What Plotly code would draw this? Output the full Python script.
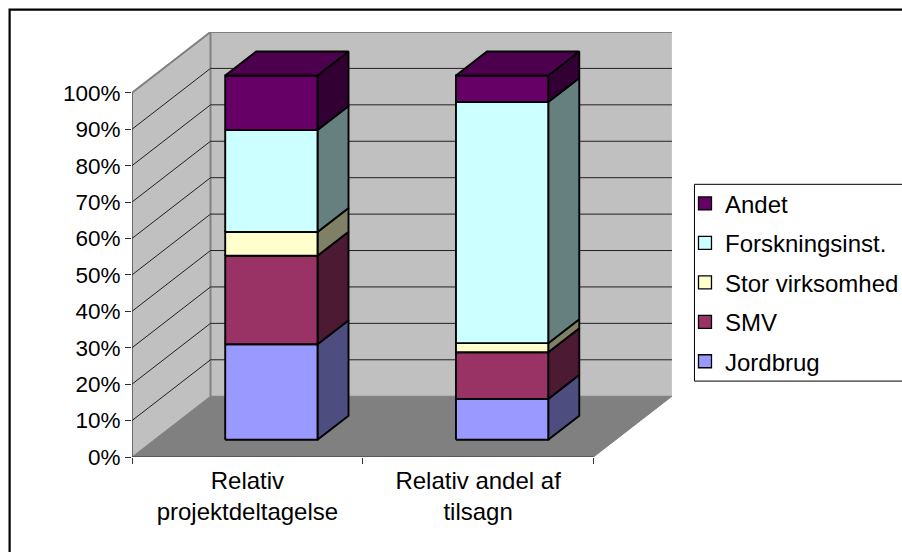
import plotly.graph_objects as go

categories = ["Relativ<br>projektdeltagelse", "Relativ andel af<br>tilsagn"]
series_names = ["Jordbrug", "SMV", "Stor virksomhed", "Forskningsinst.", "Andet"]
jordbrug = [26.2, 11.2]
smv = [24.3, 12.8]
stor = [6.5, 2.5]
forskning = [28.0, 66.2]
andet = [15.0, 7.3]
series_values = [jordbrug, smv, stor, forskning, andet]
front_colors = ["#9999FF", "#993366", "#FFFFCC", "#CCFFFF", "#660066"]
side_colors = ["#4D4D80", "#4D1A33", "#808066", "#668080", "#330033"]
top_color = "#4D004D"
tick_values = [0, 10, 20, 30, 40, 50, 60, 70, 80, 90, 100]
tick_labels = [f"{v}%" for v in tick_values]

W, H = 902, 552
PL, PR, PT, PB = 131.5, 672, 31.5, 457   # plot box in page pixels
DX = 78.5 / 230.7          # oblique depth shift, x units
DY = 61 / 3.655            # oblique depth shift, percent units
BAR_X0 = 0.307
BAR_W = 0.40
D0, D1 = 0.285, 0.68
FONT = "Liberation Sans, Arial, sans-serif"
FS_AXIS = 22.5
FS_CAT = 24
FS_LEG = 24


def proj(x, y, d):
    return x + d * DX, y + d * DY


def poly(pts, fill, line="black", width=1.9):
    xs = [p[0] for p in pts] + [pts[0][0]]
    ys = [p[1] for p in pts] + [pts[0][1]]
    return go.Scatter(x=xs, y=ys, mode="lines", fill="toself", fillcolor=fill,
                      line=dict(color=line, width=width), showlegend=False, hoverinfo="skip")


def seg(pts, color, width):
    return go.Scatter(x=[p[0] for p in pts], y=[p[1] for p in pts], mode="lines",
                      line=dict(color=color, width=width), showlegend=False, hoverinfo="skip")


fig = go.Figure()

# walls and floor
n = len(categories)
fig.add_trace(poly([proj(0, 0, 0), proj(0, 100, 0), proj(0, 100, 1), proj(0, 0, 1)], "#C0C0C0", "#C0C0C0", 1))
fig.add_trace(poly([proj(0, 0, 1), proj(0, 100, 1), proj(n, 100, 1), proj(n, 0, 1)], "#C0C0C0", "#C8C8C8", 1.5))
fig.add_trace(poly([proj(0, 0, 0), proj(n, 0, 0), proj(n, 0, 1), proj(0, 0, 1)], "#808080", "#808080", 1))
fig.add_trace(seg([proj(0, 100, 0), proj(0, 100, 1), proj(n, 100, 1)], "#808080", 2))
fig.add_trace(seg([proj(0, 100, 1), proj(0, 0, 1)], "#808080", 2))

# gridlines
for v in tick_values[1:-1]:
    fig.add_trace(seg([proj(0, v, 0), proj(0, v, 1), proj(n, v, 1)], "#202020", 1))

# axis lines
fig.add_trace(seg([proj(0, 0, 0), proj(n, 0, 0)], "#303030", 1.2))
fig.add_trace(seg([proj(0, 0, 0), proj(0, 100, 0)], "#303030", 1.2))

# stacked prisms
for c in range(n):
    base = 0
    x0, x1 = c + BAR_X0, c + BAR_X0 + BAR_W
    for s, vals in enumerate(series_values):
        y0, y1 = base, base + vals[c]
        fig.add_trace(poly([proj(x1, y0, D0), proj(x1, y1, D0), proj(x1, y1, D1), proj(x1, y0, D1)], side_colors[s]))
        fig.add_trace(poly([proj(x0, y0, D0), proj(x1, y0, D0), proj(x1, y1, D0), proj(x0, y1, D0)], front_colors[s]))
        base = y1
    fig.add_trace(poly([proj(x0, base, D0), proj(x1, base, D0), proj(x1, base, D1), proj(x0, base, D1)], top_color))


def px(x):
    return (x - PL) / (PR - PL)


def py(y):
    return (PB - y) / (PB - PT)


# legend entries, one legend per row so the row spacing can follow the reference
legend_tops = [181, 220.5, 260, 299.5, 339]
legend_left = 685
layout_legends = {}
for i, s in enumerate(reversed(range(len(series_names)))):
    key = "legend" if i == 0 else f"legend{i + 1}"
    fig.add_trace(go.Scatter(x=[None], y=[None], mode="markers", name=series_names[s], legend=key,
                             marker=dict(symbol="square", size=13, color=front_colors[s],
                                         line=dict(color="black", width=1.3))))
    layout_legends[key] = dict(x=px(legend_left), xanchor="left", y=py(legend_tops[i]), yanchor="top",
                               bgcolor="rgba(0,0,0,0)", borderwidth=0,
                               font=dict(family=FONT, size=FS_LEG, color="black"))

fig.update_layout(
    width=W, height=H, autosize=False,
    margin=dict(l=PL, r=W - PR, t=PT, b=H - PB, pad=0, autoexpand=False),
    paper_bgcolor="white", plot_bgcolor="rgba(0,0,0,0)",
    font=dict(family=FONT, size=FS_AXIS, color="black"),
    showlegend=True,
    xaxis=dict(range=[0, n + DX], tickmode="array", tickvals=[0.5 + i for i in range(n)], ticktext=categories,
               ticks="", showgrid=False, zeroline=False, showline=False, ticklabelstandoff=7, fixedrange=True,
               tickfont=dict(family=FONT, size=FS_CAT, color="black"),
               minor=dict(tickmode="array", tickvals=list(range(n + 1)), ticks="outside", ticklen=6,
                          tickcolor="#303030", tickwidth=1.2, showgrid=False)),
    yaxis=dict(range=[0, 100 + DY], tickmode="array", tickvals=tick_values, ticktext=tick_labels,
               ticks="outside", ticklen=6, tickcolor="#303030", tickwidth=1.2, showgrid=False, zeroline=False,
               showline=False, fixedrange=True),
    shapes=[
        dict(type="rect", xref="paper", yref="paper", x0=px(9), x1=px(W + 20), y0=py(9), y1=py(H + 20),
             line=dict(color="black", width=2.2), fillcolor="rgba(0,0,0,0)", layer="below"),
        dict(type="rect", xref="paper", yref="paper", x0=px(694.5), x1=px(W + 20), y0=py(184), y1=py(381),
             line=dict(color="black", width=1), fillcolor="white", layer="below"),
    ],
    **layout_legends,
)
fig.write_html("out.html", config={"displayModeBar": False},
               post_script="document.body.style.margin='0';document.documentElement.style.overflow='hidden';")
